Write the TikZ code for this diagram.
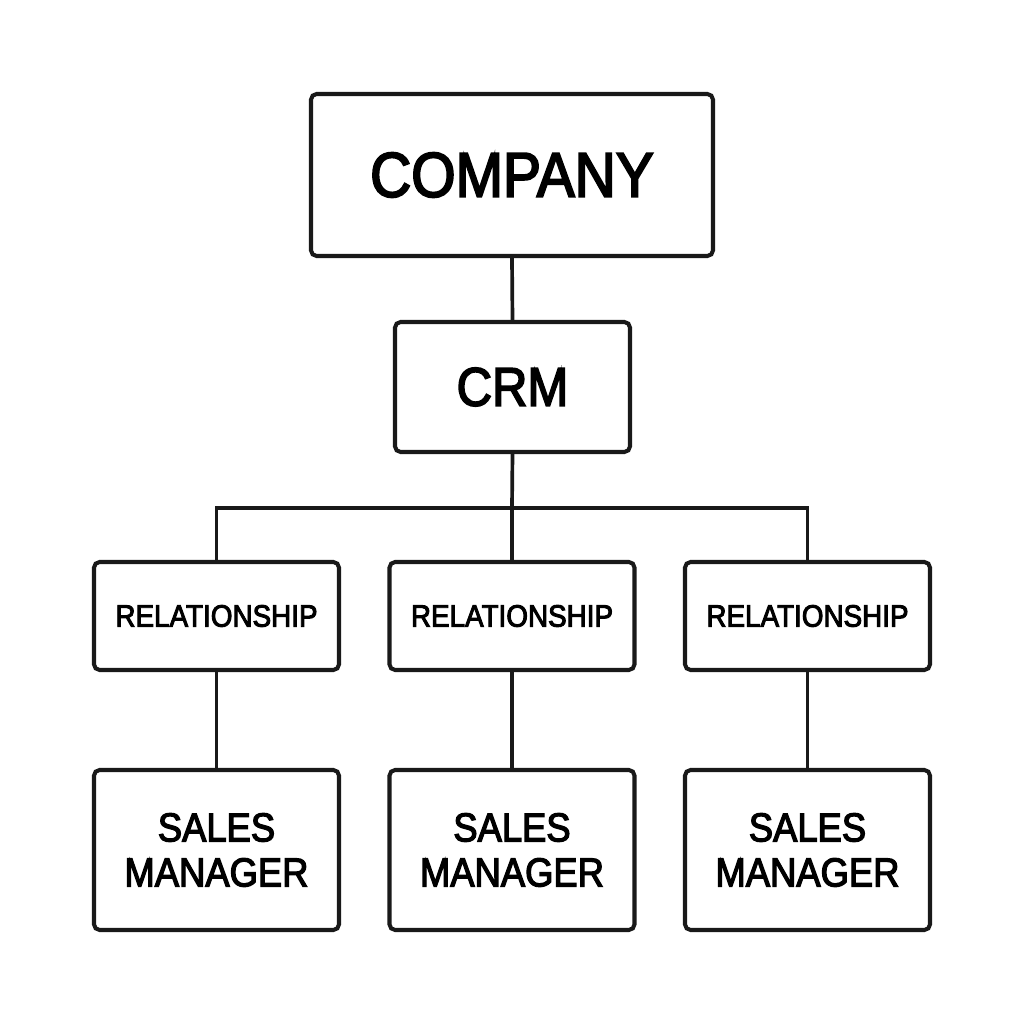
\documentclass[tikz,border=0pt]{standalone}
\usepackage{fontspec}
\setmainfont{Liberation Sans}[FakeStretch=0.9,FakeBold=3]
\usepackage{tikz}
\usetikzlibrary{positioning,calc}

\tikzset{
  kasten/.style={draw=black!90,line width=1.15pt,rounded corners=1.6pt,fill=white,align=center,inner sep=0pt},
  linie/.style={draw=black!90,line width=1.05pt}
}

\begin{document}
\begin{tikzpicture}
%Bildgroesse wie Vorlage (1024px = 10.24cm)
\useasboundingbox[fill=white] (0,0) rectangle (10.24,10.24);
  \pgfmathsetmacro{\relY}{4.08}
  \pgfmathsetmacro{\salesY}{1.74}
%obere Ebene
\node[kasten,minimum width=4.02cm,minimum height=1.62cm,font=\fontsize{18}{20}\selectfont] (company) at (5.12,8.49) {COMPANY};
\node[kasten,minimum width=2.35cm,minimum height=1.30cm,font=\fontsize{15.5}{18}\selectfont] (crm) at (5.125,6.37) {CRM};
\draw[linie] (company.south) -- (crm.north);
\coordinate (bus) at (5.12,5.16);
\draw[linie] (crm.south) -- (bus);
%drei Zweige
\foreach \i/\x in {1/2.165,2/5.12,3/8.075}{
\node[kasten,minimum width=2.45cm,minimum height=1.08cm,font=\fontsize{8.8}{10}\selectfont] (rel\i) at (\x,\relY) {RELATIONSHIP};
\node[kasten,minimum width=2.45cm,minimum height=1.60cm,font=\fontsize{11.5}{12.8}\selectfont] (sales\i) at (\x,\salesY) {SALES\\MANAGER};
\draw[linie] (bus) -| (rel\i.north);
\draw[linie] (rel\i.south) -- (sales\i.north);
}
\end{tikzpicture}
\end{document}
